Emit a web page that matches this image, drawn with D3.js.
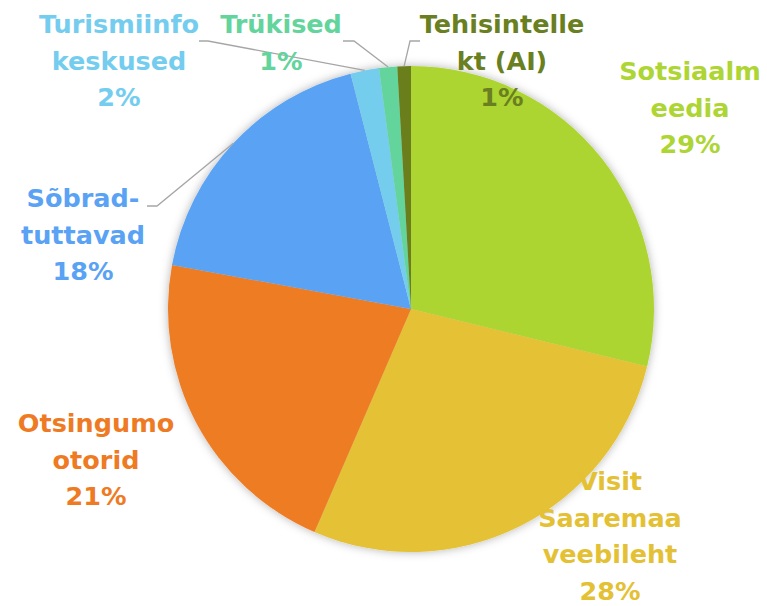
<!DOCTYPE html>
<html>
<head>
<meta charset="utf-8">
<script src="https://cdn.jsdelivr.net/npm/d3@7"></script>
<style>
  body { margin: 0; background: #fff; }
  svg { display: block; }
  .lbl { font-family: "DejaVu Sans", sans-serif; font-weight: bold; }
</style>
</head>
<body>
<div id="chart"></div>
<script>
// data (share of respondents, %)
const categories = ["Sotsiaalmeedia", "Visit Saaremaa veebileht", "Otsingumootorid",
  "Sõbrad-tuttavad", "Turismiinfo keskused", "Trükised", "Tehisintellekt (AI)"];
const values = [28.8, 27.7, 21.4, 18.1, 1.9, 1.2, 0.9];
// label text as wrapped in the original
const labelLines = [
  ["Sotsiaalm", "eedia"],
  ["Visit", "Saaremaa", "veebileht"],
  ["Otsingumo", "otorid"],
  ["Sõbrad-", "tuttavad"],
  ["Turismiinfo", "keskused"],
  ["Trükised"],
  ["Tehisintelle", "kt (AI)"]
];
const colors = ["#add533", "#e4c134", "#ee7b23", "#5aa2f4", "#74cdee", "#62d49c", "#6a7f1f"];

// label layout: center x, first baseline y, leader elbow (null = no leader)
const labelPos = [
  { x: 690, y: 80, leader: null },
  { x: 610, y: 490, leader: null },
  { x: 96, y: 432, leader: null },
  { x: 83, y: 207, leader: { x0: 147, x1: 157, y: 206 } },
  { x: 119, y: 33, leader: { x0: 199, x1: 208, y: 41 } },
  { x: 281, y: 33, leader: { x0: 343, x1: 354, y: 41 } },
  { x: 502, y: 33, leader: { x0: 420, x1: 410, y: 41 } }
];

(function(){
  const svgWidth = 767, svgHeight = 606;
  const cx = 411, cy = 309, radius = 243;
  const lineH = 36.5;

  const svg = d3.select("#chart").append("svg")
    .attr("width", svgWidth).attr("height", svgHeight);

  const defs = svg.append("defs");
  defs.append("filter").attr("id", "shadow")
    .attr("x", "-20%").attr("y", "-20%").attr("width", "140%").attr("height", "140%")
    .append("feDropShadow")
    .attr("dx", 0).attr("dy", 0).attr("stdDeviation", 5)
    .attr("flood-color", "#000").attr("flood-opacity", 0.3);

  const data = categories.map((c, i) => ({ name: c, value: values[i], i: i }));
  const total = d3.sum(values);
  const fmt = v => Math.round(v / total * 100) + "%";

  const pie = d3.pie().sort(null).value(d => d.value);
  const arc = d3.arc().innerRadius(0).outerRadius(radius);
  const arcs = pie(data);

  const g = svg.append("g").attr("transform", `translate(${cx}, ${cy})`);

  g.append("g").attr("filter", "url(#shadow)")
    .selectAll("path").data(arcs).join("path")
    .attr("d", arc)
    .attr("fill", d => colors[d.data.i]);

  // leader lines for the labels placed away from their slice
  arcs.forEach(a => {
    const p = labelPos[a.data.i];
    if (!p.leader) return;
    const mid = (a.startAngle + a.endAngle) / 2;
    const ex = cx + radius * Math.sin(mid);
    const ey = cy - radius * Math.cos(mid);
    svg.append("polyline")
      .attr("points", `${p.leader.x0},${p.leader.y} ${p.leader.x1},${p.leader.y} ${ex},${ey}`)
      .attr("fill", "none")
      .attr("stroke", "#a6a6a6")
      .attr("stroke-width", 1.3);
  });

  arcs.forEach(a => {
    const i = a.data.i;
    const p = labelPos[i];
    const lines = labelLines[i].concat([fmt(a.data.value)]);
    const t = svg.append("text")
      .attr("class", "lbl")
      .attr("text-anchor", "middle")
      .attr("font-size", 25.5)
      .attr("fill", colors[i]);
    lines.forEach((s, k) => {
      t.append("tspan").attr("x", p.x).attr("y", p.y + k * lineH).text(s);
    });
  });
})();
</script>
</body>
</html>
